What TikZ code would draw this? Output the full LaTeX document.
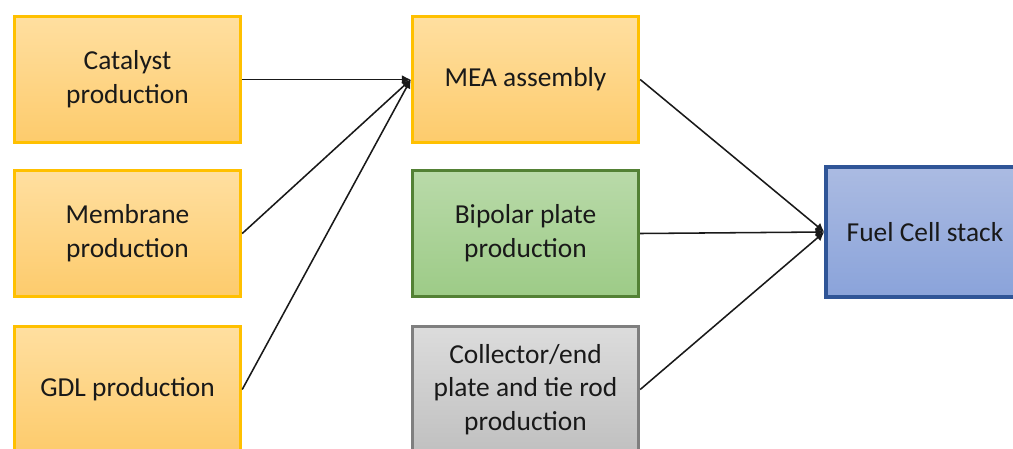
\documentclass[tikz,border=0pt]{standalone}
\usepackage{fontspec}
\setmainfont{Carlito}
\usepackage{xcolor}
\usetikzlibrary{arrows.meta,positioning}
\definecolor{orangeline}{HTML}{FFC000}
\definecolor{orangetop}{HTML}{FFDFA0}
\definecolor{orangebottom}{HTML}{FDCB6C}
\definecolor{greenline}{HTML}{538135}
\definecolor{greentop}{HTML}{B9DAA9}
\definecolor{greenbottom}{HTML}{9DCB87}
\definecolor{grayline}{HTML}{7F7F7F}
\definecolor{graytop}{HTML}{DCDCDC}
\definecolor{graybottom}{HTML}{C0C0C0}
\definecolor{blueline}{HTML}{2F5597}
\definecolor{bluetop}{HTML}{ABBBE2}
\definecolor{bluebottom}{HTML}{8AA3DA}
\tikzset{
  stagebox/.style={line width=2.4pt,align=center,text=black!90,
    minimum width=5.65cm,minimum height=3.15cm,
    font=\fontsize{19.5}{24}\selectfont},
  partbox/.style={stagebox,draw=orangeline,top color=orangetop,bottom color=orangebottom},
  platebox/.style={stagebox,draw=greenline,top color=greentop,bottom color=greenbottom},
  hardwarebox/.style={stagebox,draw=grayline,top color=graytop,bottom color=graybottom},
  stackbox/.style={stagebox,draw=blueline,top color=bluetop,bottom color=bluebottom,
    minimum width=4.95cm,minimum height=3.25cm},
  feedarrow/.style={-{Latex[length=2.2mm,width=2.2mm]},line width=1.1pt,draw=black!90}
}

\begin{document}
\begin{tikzpicture}[x=0.025cm,y=-0.025cm]
  \useasboundingbox (0,0) rectangle (1013,448);
  \clip (0,0) rectangle (1013,448);
  \node[partbox] (catalyst) at (127.5,79.5) {Catalyst\\production};
  \node[partbox] (membrane) at (127.5,233.5) {Membrane\\production};
  \node[partbox] (gdl) at (127.5,389.5) {GDL production};
  \node[partbox] (mea) at (525.5,79.5) {MEA assembly};
  \node[platebox] (bipolar) at (525.5,233.5) {Bipolar plate\\production};
  \node[hardwarebox] (collector) at (525.5,389.5) {Collector/end\\plate and tie rod\\production};
  \node[stackbox] (stack) at (925,232) {Fuel Cell stack};
  \draw[feedarrow] (catalyst.east) -- (mea.west);
  \draw[feedarrow] (membrane.east) -- (mea.west);
  \draw[feedarrow] (gdl.east) -- (mea.west);
  \draw[feedarrow] (mea.east) -- (stack.west);
  \draw[feedarrow] (bipolar.east) -- (stack.west);
  \draw[feedarrow] (collector.east) -- (stack.west);
\end{tikzpicture}
\end{document}
